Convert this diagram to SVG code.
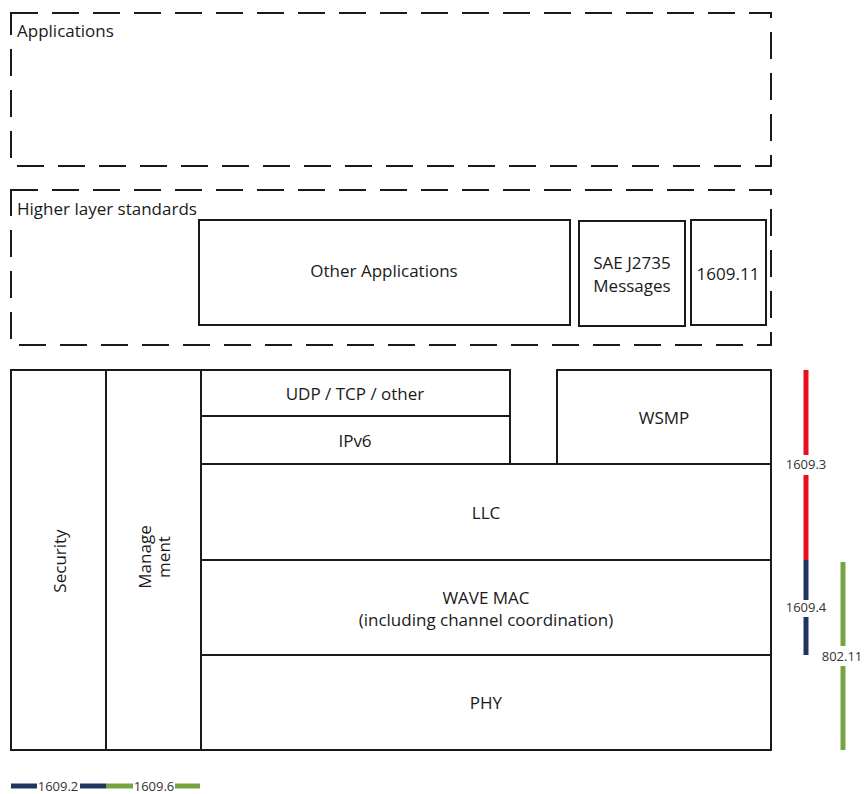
<svg xmlns="http://www.w3.org/2000/svg" width="864" height="794" viewBox="0 0 864 794">
<style>
.dash{fill:none;stroke:#1a1a1a;stroke-width:2;stroke-dasharray:27 14}
.box{fill:#fff;stroke:#1a1a1a;stroke-width:2}
.t{font-family:"Open Sans","Liberation Sans",sans-serif;font-size:17px;fill:#1a1a1a}
.c{text-anchor:middle}
.s{font-family:"Open Sans","Liberation Sans",sans-serif;font-size:13px;fill:#333;text-anchor:middle}
.red{stroke:#e8101e;stroke-width:5;fill:none}
.navy{stroke:#1f3460;stroke-width:5;fill:none}
.green{stroke:#76a442;stroke-width:5;fill:none}
</style>
<rect width="864" height="794" fill="#fff"/>
<g id="applications">
<rect class="dash" x="11" y="13" width="760" height="153"/>
<text class="t" x="17" y="37">Applications</text>
</g>
<g id="higher-layer">
<rect class="dash" x="11" y="190" width="760" height="155"/>
<text class="t" x="17" y="215">Higher layer standards</text>
</g>
<g id="other-applications">
<rect class="box" x="199" y="220" width="371" height="105"/>
<text class="t c" x="384" y="277">Other Applications</text>
</g>
<g id="sae-j2735">
<rect class="box" x="579" y="221" width="106" height="105"/>
<text class="t c" x="632" y="269">SAE J2735</text>
<text class="t c" x="632" y="292">Messages</text>
</g>
<g id="p1609-11">
<rect class="box" x="691" y="220" width="75" height="105"/>
<text class="t c" x="728" y="280">1609.11</text>
</g>
<g id="security">
<rect class="box" x="11" y="370" width="95" height="380"/>
<text class="t c" transform="translate(66 561) rotate(-90)">Security</text>
</g>
<g id="management">
<rect class="box" x="106" y="370" width="95" height="380"/>
<text class="t c" transform="translate(151 557) rotate(-90)">Manage</text>
<text class="t c" transform="translate(170 557) rotate(-90)">ment</text>
</g>
<g id="udp">
<rect class="box" x="201" y="370" width="309" height="46"/>
<text class="t c" x="355" y="400">UDP / TCP / other</text>
</g>
<g id="ipv6">
<rect class="box" x="201" y="416" width="309" height="48"/>
<text class="t c" x="355" y="447">IPv6</text>
</g>
<g id="wsmp">
<rect class="box" x="557" y="370" width="214" height="94"/>
<text class="t c" x="664" y="424">WSMP</text>
</g>
<g id="llc">
<rect class="box" x="201" y="464" width="570" height="96"/>
<text class="t c" x="486" y="519">LLC</text>
</g>
<g id="wave-mac">
<rect class="box" x="201" y="560" width="570" height="95"/>
<text class="t c" x="486" y="604">WAVE MAC</text>
<text class="t c" x="486" y="626">(including channel coordination)</text>
</g>
<g id="phy">
<rect class="box" x="201" y="655" width="570" height="95"/>
<text class="t c" x="486" y="709">PHY</text>
</g>
<g id="connectors">
<line class="red" x1="806" y1="370" x2="806" y2="455"/>
<line class="red" x1="806" y1="475" x2="806" y2="560"/>
<line class="navy" x1="806" y1="560" x2="806" y2="600"/>
<line class="navy" x1="806" y1="617" x2="806" y2="655"/>
<line class="green" x1="843" y1="562" x2="843" y2="646"/>
<line class="green" x1="843" y1="666" x2="843" y2="750"/>
<line class="navy" x1="11" y1="786" x2="37" y2="786"/>
<line class="navy" x1="80" y1="786" x2="106" y2="786"/>
<line class="green" x1="106" y1="786" x2="133" y2="786"/>
<line class="green" x1="175" y1="786" x2="200" y2="786"/>
</g>
<g id="labels">
<text class="s" x="806" y="469">1609.3</text>
<text class="s" x="806" y="612">1609.4</text>
<text class="s" x="842" y="661">802.11</text>
<text class="s" x="58" y="791">1609.2</text>
<text class="s" x="154" y="791">1609.6</text>
</g>
</svg>
